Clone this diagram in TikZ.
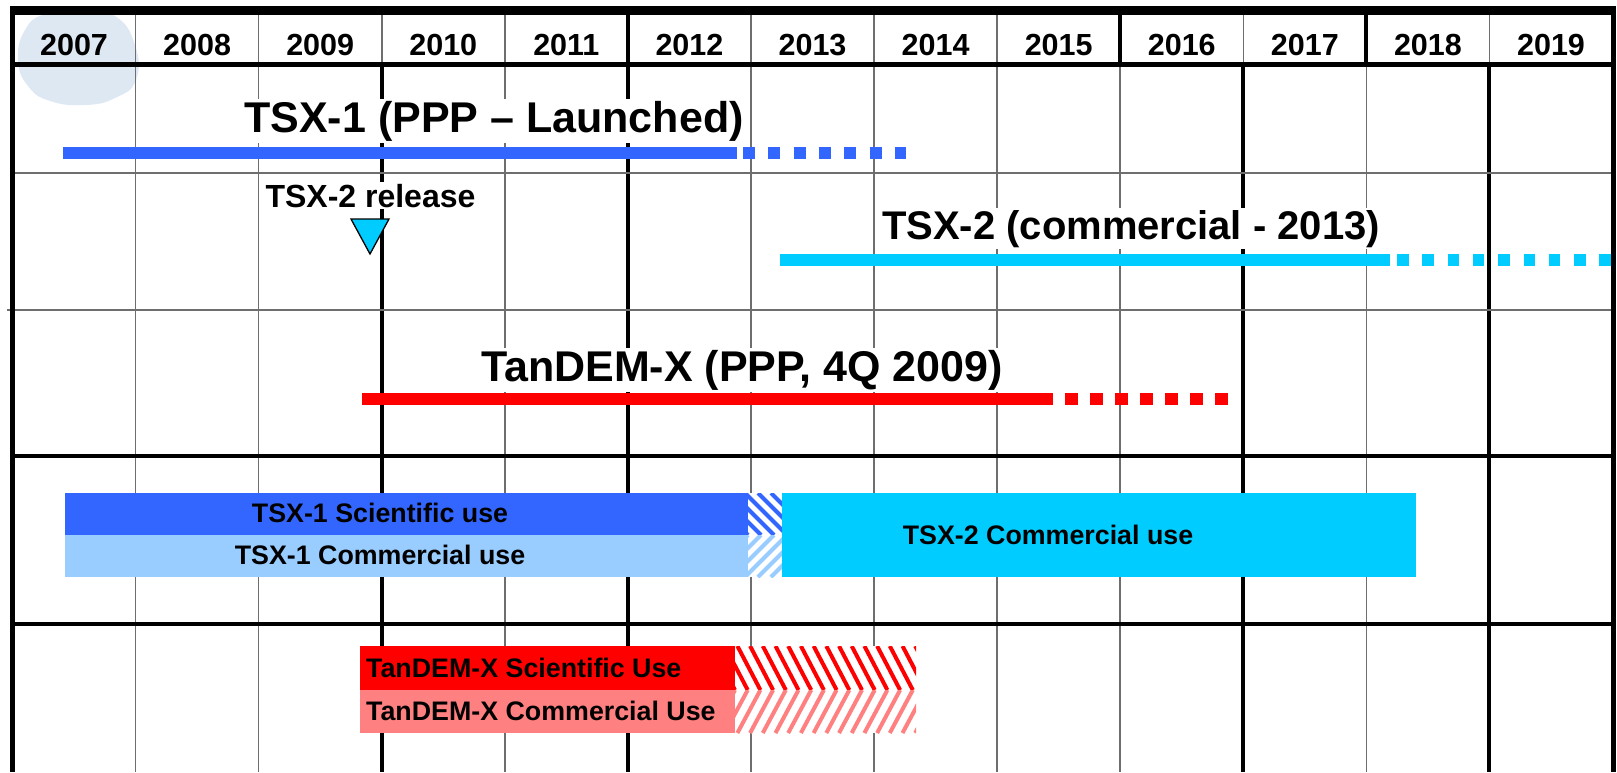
\documentclass[tikz,border=0pt]{standalone}
\usepackage{fontspec}
\setmainfont{Liberation Sans}
\definecolor{tsxblue}{RGB}{51,102,255}
\definecolor{tsxlight}{RGB}{153,204,255}
\definecolor{tsxcyan}{RGB}{0,204,255}
\definecolor{tdxred}{RGB}{255,0,0}
\definecolor{tdxlight}{RGB}{255,128,128}
\definecolor{gridgray}{RGB}{110,110,110}
\definecolor{blobc}{RGB}{222,232,243}
% "\" stripes: x1 y1 x2 y2 colour period dx
\newcommand{\hatchdown}[7]{%
  \begin{scope}
    \clip (#1,#2) rectangle (#3,#4);
    \fill[white] (#1,#2) rectangle (#3,#4);
    \pgfmathsetmacro\hsA{#1-#7}
    \pgfmathsetmacro\hsB{#1-#7+#6}
    \foreach \s in {\hsA,\hsB,...,#3}
      \draw[#5, line width=4] (\s,#2) -- ++({#7},{#4-#2});
  \end{scope}}
% "/" stripes
\newcommand{\hatchup}[7]{%
  \begin{scope}
    \clip (#1,#2) rectangle (#3,#4);
    \fill[white] (#1,#2) rectangle (#3,#4);
    \pgfmathsetmacro\hsA{#1-#7}
    \pgfmathsetmacro\hsB{#1-#7+#6}
    \foreach \s in {\hsA,\hsB,...,#3}
      \draw[#5, line width=4] (\s,#4) -- ++({#7},{#2-#4});
  \end{scope}}
\begin{document}
\begin{tikzpicture}[x=1pt,y=-1pt,
  thinline/.style={gridgray, line width=1.6},
  thickline/.style={black, line width=4},
  year/.style={font=\fontsize{30.5}{36}\selectfont\bfseries, anchor=base, inner sep=0},
  title/.style={font=\fontsize{43}{50}\selectfont\bfseries, anchor=base, fill=white, inner sep=2},
  smalltitle/.style={font=\fontsize{32}{36}\selectfont\bfseries, anchor=base, fill=white, inner sep=2},
  boxlabel/.style={font=\fontsize{26.8}{30}\selectfont\bfseries, anchor=base, inner sep=0},
  bar/.style={line width=12.5},
  dashbar/.style={line width=12.5, dash pattern=on 12 off 13.3},
  boxshape/.style={anchor=north west, inner sep=0, draw=none}]
\useasboundingbox (0,0) rectangle (1617,772);

% decorative blob behind the header
\fill[blobc] plot[smooth cycle, tension=0.8] coordinates {(18,60) (25,30) (45,14) (80,10) (115,16) (135,45) (136,80) (115,98) (85,105) (50,101) (28,86)};

% grid: body verticals
\foreach \i in {1,2,4,6,7,8,9,11}
  \draw[thinline] ({12.5+123.08*\i},64) -- ({12.5+123.08*\i},772);
\foreach \i in {3,5,10,12}
  \draw[thickline] ({12.5+123.08*\i},64) -- ({12.5+123.08*\i},772);
% header verticals
\foreach \i in {1,2,3,4,6,7,8,10,12}
  \draw[thinline] ({12.5+123.08*\i},12) -- ({12.5+123.08*\i},64);
\foreach \i in {5,9,11}
  \draw[thickline] ({12.5+123.08*\i},12) -- ({12.5+123.08*\i},64);
% horizontals
\draw[thinline] (12,173) -- (1613,173);
\draw[thinline] (7,310) -- (1613,310);
\draw[black, line width=3.5] (12,456) -- (1613,456);
\draw[black, line width=3.5] (12,624) -- (1613,624);
\draw[black, line width=8.5] (10,10.5) -- (1615.5,10.5);
\draw[black, line width=5] (12,64.5) -- (1615.5,64.5);
\draw[black, line width=5] (12.5,6) -- (12.5,772);
\draw[black, line width=5] (1613,6) -- (1613,772);

% year labels
\foreach \yr [count=\i from 0] in {2007,...,2019}
  \node[year] (y\yr) at ({12.5+123.08*(\i+0.5)},55) {\yr};

% TSX-1 line
\coordinate (a1) at (63,153);
\coordinate (a2) at (737,153);
\coordinate (a3) at (743,153);
\coordinate (a4) at (906,153);
\draw[bar, tsxblue] (a1) -- (a2);
\draw[dashbar, tsxblue] (a3) -- (a4);
\node[title] (t1) at (494,132) {TSX-1 (PPP – Launched)};

% TSX-2 release marker
\node[smalltitle] (rel) at (370.5,207) {TSX-2 release};
\coordinate (tr1) at (351,219);
\coordinate (tr2) at (389,219);
\coordinate (tr3) at (370,254);
\draw[black, line width=1.3, fill=tsxcyan, line join=miter] (tr1) -- (tr2) -- (tr3) -- cycle;

% TSX-2 line
\coordinate (c1) at (780,260);
\coordinate (c2) at (1390,260);
\coordinate (c3) at (1397,260);
\coordinate (c4) at (1613,260);
\draw[bar, tsxcyan] (c1) -- (c2);
\draw[line width=12.5, dash pattern=on 11.5 off 13.8, tsxcyan] (c3) -- (c4);
\node[title, font=\fontsize{40}{48}\selectfont\bfseries] (t2) at (1131,239) {TSX-2 (commercial - 2013)};

% TanDEM-X line
\coordinate (r1) at (362,399);
\coordinate (r2) at (1040,399);
\coordinate (r3) at (1040,399);
\coordinate (r4) at (1228,399);
\draw[bar, tdxred] (r1) -- (r2);
\draw[line width=12.5, dash pattern=on 12.5 off 12.5, tdxred] (r3) -- (r4);
\node[title] (t3) at (742,381) {TanDEM-X (PPP, 4Q 2009)};

% TSX boxes
\node[boxshape, fill=tsxblue, minimum width=683, minimum height=42] (b1) at (65,493) {};
\node[boxshape, fill=tsxlight, minimum width=683, minimum height=42] (b2) at (65,535) {};
\hatchdown{748}{493}{782}{535}{tsxblue}{13}{42}
\hatchup{748}{535}{782}{577}{tsxlight}{13}{42}
\node[boxshape, fill=tsxcyan, minimum width=634, minimum height=84] (b3) at (782,493) {};
\node[boxlabel] (l1) at (380,522) {TSX-1 Scientific use};
\node[boxlabel] (l2) at (380,564) {TSX-1 Commercial use};
\node[boxlabel] (l3) at (1048,544) {TSX-2 Commercial use};

% TanDEM-X boxes
\node[boxshape, fill=tdxred, minimum width=375, minimum height=44] (d1) at (360,646) {};
\node[boxshape, fill=tdxlight, minimum width=375, minimum height=43] (d2) at (360,690) {};
\hatchdown{735}{646}{916}{690}{tdxred}{12.7}{23}
\hatchup{735}{690}{916}{733}{tdxlight}{12.7}{23}
\node[boxlabel, anchor=base west] (l4) at (366,677) {TanDEM-X Scientific Use};
\node[boxlabel, anchor=base west] (l5) at (366,720) {TanDEM-X Commercial Use};
\end{tikzpicture}
\end{document}
